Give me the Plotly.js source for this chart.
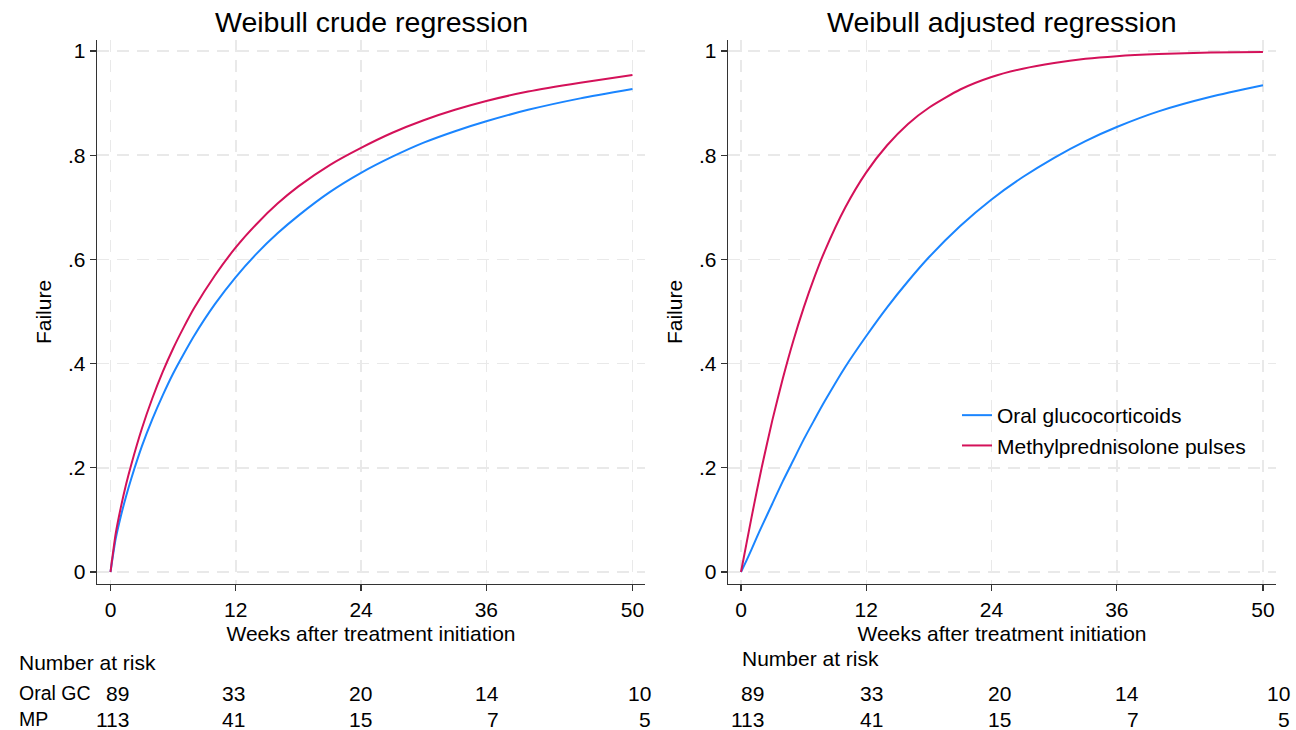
<!DOCTYPE html>
<html>
<head>
<meta charset="utf-8">
<script src="https://cdn.plot.ly/plotly-3.0.1.min.js"></script>
<style>html,body{margin:0;padding:0;background:#fff;}#chart{width:1296px;height:730px;}</style>
</head>
<body>
<div id="chart"></div>
<script>
// ---- data ----
const weeks     = [0, 0.5, 1, 1.5, 2, 3, 4, 5, 6, 7, 8, 10, 12, 14, 16, 18, 21, 24, 27, 30, 33, 36, 40, 45, 50];
const crudeOral = [0, 0.064, 0.108, 0.146, 0.180, 0.241, 0.293, 0.339, 0.381, 0.418, 0.453, 0.514, 0.566, 0.611, 0.650, 0.684, 0.729, 0.766, 0.797, 0.824, 0.846, 0.865, 0.887, 0.909, 0.927];
const crudeMP   = [0, 0.074, 0.125, 0.169, 0.207, 0.275, 0.333, 0.384, 0.429, 0.469, 0.506, 0.569, 0.623, 0.668, 0.707, 0.740, 0.781, 0.814, 0.843, 0.867, 0.887, 0.904, 0.922, 0.939, 0.954];
const adjOral   = [0, 0.021, 0.043, 0.066, 0.088, 0.131, 0.174, 0.214, 0.254, 0.291, 0.327, 0.394, 0.453, 0.508, 0.558, 0.604, 0.664, 0.715, 0.758, 0.795, 0.827, 0.854, 0.884, 0.912, 0.934];
const adjMP     = [0, 0.052, 0.104, 0.154, 0.202, 0.291, 0.371, 0.443, 0.507, 0.564, 0.615, 0.700, 0.767, 0.819, 0.860, 0.891, 0.926, 0.950, 0.966, 0.977, 0.985, 0.990, 0.994, 0.997, 0.998];
const seriesNames = ['Oral glucocorticoids', 'Methylprednisolone pulses'];
const panelTitles = ['Weibull crude regression', 'Weibull adjusted regression'];
const xTicks = [0, 12, 24, 36, 50];
const yTicks = [0, 0.2, 0.4, 0.6, 0.8, 1];
const yTickText = ['0', '.2', '.4', '.6', '.8', '1'];
const riskWeeks = [0, 12, 24, 36, 50];
const riskRowLabels = ['Oral GC', 'MP'];
const riskOral = [89, 33, 20, 14, 10];
const riskMP = [113, 41, 15, 7, 5];

// ---- styling ----
const FONT = 'Liberation Sans, Arial, sans-serif';
const FS = 21;
const W = 1296, H = 730;
const COL = ['#1a85ff', '#d41159'];
const py = v => 1 - v / H;   // pixel-from-top -> paper y
const px = v => v / W;       // pixel-from-left -> paper x
const txt = {family: FONT, size: FS, color: '#000'};

function xaxis(dom, anchor, rng) {
  return {
    domain: dom, anchor: anchor, range: rng,
    tickmode: 'array', tickvals: xTicks, ticktext: xTicks.map(String),
    ticks: 'outside', ticklen: 6, tickwidth: 1.3, tickcolor: '#333',
    showline: true, linecolor: '#333', linewidth: 1.3,
    showgrid: true, gridcolor: '#e9e9e9', gridwidth: 1.5, griddash: '12px,8px',
    zeroline: false, automargin: false, fixedrange: true,
    tickfont: txt,
    title: {text: 'Weeks after treatment initiation', font: txt, standoff: 6}
  };
}
function yaxis(anchor) {
  return {
    domain: [py(584), py(40)], anchor: anchor, range: [-0.023, 1.021],
    tickmode: 'array', tickvals: yTicks, ticktext: yTickText,
    ticks: 'outside', ticklen: 6, tickwidth: 1.3, tickcolor: '#333',
    showline: true, linecolor: '#333', linewidth: 1.3,
    showgrid: true, gridcolor: '#e9e9e9', gridwidth: 1.5, griddash: '12px,8px',
    zeroline: false, automargin: false, fixedrange: true,
    tickfont: txt,
    title: {text: 'Failure', font: txt, standoff: 10}
  };
}

const panels = [
  {xa: 'x', ya: 'y', oral: crudeOral, mp: crudeMP, leg: false},
  {xa: 'x2', ya: 'y2', oral: adjOral, mp: adjMP, leg: true}
];
const traces = [];
panels.forEach(p => {
  [p.oral, p.mp].forEach((vals, i) => {
    traces.push({
      type: 'scatter', mode: 'lines', x: weeks, y: vals,
      xaxis: p.xa, yaxis: p.ya, name: seriesNames[i], showlegend: p.leg,
      line: {color: COL[i], width: 2, shape: 'spline', smoothing: 0.6},
      hoverinfo: 'skip'
    });
  });
});

const xDomL = [px(97), px(645)], xDomR = [px(728), px(1276)];
const annotations = [];
const tfont = {family: FONT, size: 28.5, color: '#000'};
annotations.push({xref: 'paper', yref: 'paper', x: (xDomL[0] + xDomL[1]) / 2, y: py(22), text: panelTitles[0], showarrow: false, font: tfont, xanchor: 'center', yanchor: 'middle'});
annotations.push({xref: 'paper', yref: 'paper', x: (xDomR[0] + xDomR[1]) / 2, y: py(22), text: panelTitles[1], showarrow: false, font: tfont, xanchor: 'center', yanchor: 'middle'});

annotations.push({xref: 'paper', yref: 'paper', x: px(17), y: py(662), text: 'Number at risk', showarrow: false, font: txt, xanchor: 'left', yanchor: 'middle'});
annotations.push({xref: 'paper', yref: 'paper', x: px(740), y: py(658), text: 'Number at risk', showarrow: false, font: txt, xanchor: 'left', yanchor: 'middle'});
const rowY = [693, 719];
const rowFont = {family: FONT, size: 19.5, color: '#000'};
riskRowLabels.forEach((lab, r) => {
  annotations.push({xref: 'paper', yref: 'paper', x: px(17), y: py(rowY[r]), text: lab, showarrow: false, font: rowFont, xanchor: 'left', yanchor: 'middle'});
});
const shiftL = [20, 11, 13, 15, 21];
const shiftR = [25, 19, 21, 24, 29];
[riskOral, riskMP].forEach((row, r) => {
  row.forEach((v, j) => {
    annotations.push({xref: 'x', yref: 'paper', x: riskWeeks[j], xshift: shiftL[j], y: py(rowY[r]), text: String(v), showarrow: false, font: txt, xanchor: 'right', yanchor: 'middle'});
    annotations.push({xref: 'x2', yref: 'paper', x: riskWeeks[j], xshift: shiftR[j], y: py(rowY[r]), text: String(v), showarrow: false, font: txt, xanchor: 'right', yanchor: 'middle'});
  });
});

const layout = {
  width: W, height: H,
  margin: {l: 0, r: 0, t: 0, b: 0, pad: 0},
  paper_bgcolor: '#fff', plot_bgcolor: '#fff',
  showlegend: true,
  legend: {x: px(957), y: py(395), xanchor: 'left', yanchor: 'top', bgcolor: 'rgba(0,0,0,0)', borderwidth: 0,
           font: txt, tracegroupgap: 0},
  xaxis: xaxis(xDomL, 'y', [-1.293, 51.2]),
  yaxis: yaxis('x'),
  xaxis2: xaxis(xDomR, 'y2', [-1.245, 51.25]),
  yaxis2: yaxis('x2'),
  annotations: annotations
};

Plotly.newPlot('chart', traces, layout, {staticPlot: true, displayModeBar: false});
</script>
</body>
</html>
